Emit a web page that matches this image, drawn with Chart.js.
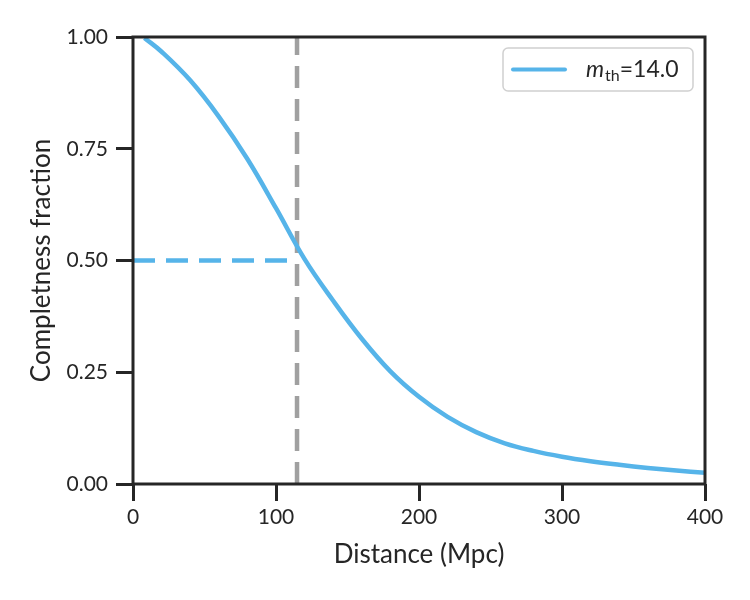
<!DOCTYPE html>
<html lang="en">
<head>
    <meta charset="UTF-8">
    <title>Completeness fraction</title>
    <script src="https://cdn.jsdelivr.net/npm/chart.js"></script>
    <style>
        body { margin: 0; background: #ffffff; }
        .chart-container { position: relative; width: 750px; height: 600px; }
    </style>
</head>
<body>
    <div class="chart-container">
        <canvas id="completenessChart"></canvas>
    </div>
    <script>
        // values
        const distances = [8, 20, 40, 60, 80, 100, 120, 140, 160, 180, 200, 220, 240, 260, 280, 300, 320, 340, 360, 380, 400];
        const completeness = [0.998, 0.967, 0.903, 0.822, 0.727, 0.617, 0.503, 0.41, 0.325, 0.252, 0.195, 0.15, 0.116, 0.091, 0.074, 0.061, 0.051, 0.043, 0.036, 0.03, 0.025];
        const halfDistance = 114.7;
        const halfLevel = 0.5;
        const xTicks = [0, 100, 200, 300, 400];
        const yTicks = [0, 0.25, 0.5, 0.75, 1.0];
        const legendLabel = { base: 'm', sub: 'th', rest: '=14.0' };

        const blue = '#56b4e9';
        const gray = '#a0a0a0';
        const ink = '#262626';
        const font = "Lato, 'DejaVu Sans', sans-serif";

        // box around the axes + legend
        const framePlugin = {
            id: 'frame',
            afterDatasetsDraw(chart) {
                const { ctx, chartArea: a } = chart;
                ctx.save();
                ctx.strokeStyle = ink;
                ctx.lineWidth = 3;
                ctx.strokeRect(a.left, a.top, a.right - a.left, a.bottom - a.top);

                // legend
                const lx = 503, ly = 48, lw = 190, lh = 43;
                ctx.beginPath();
                ctx.roundRect(lx, ly, lw, lh, 5);
                ctx.fillStyle = 'rgba(255,255,255,0.9)';
                ctx.fill();
                ctx.strokeStyle = '#d0d0d0';
                ctx.lineWidth = 1.5;
                ctx.stroke();

                ctx.beginPath();
                ctx.moveTo(513, 69.5);
                ctx.lineTo(565, 69.5);
                ctx.strokeStyle = blue;
                ctx.lineWidth = 4;
                ctx.lineCap = 'round';
                ctx.stroke();

                ctx.fillStyle = ink;
                ctx.textBaseline = 'alphabetic';
                let tx = 586;
                ctx.font = 'italic 23px ' + font;
                ctx.fillText(legendLabel.base, tx, 77);
                tx += ctx.measureText(legendLabel.base).width + 1;
                ctx.font = '16px ' + font;
                ctx.fillText(legendLabel.sub, tx, 81);
                tx += ctx.measureText(legendLabel.sub).width;
                ctx.font = '23px ' + font;
                ctx.fillText(legendLabel.rest, tx, 77);
                ctx.restore();
            }
        };

        new Chart(document.getElementById('completenessChart').getContext('2d'), {
            type: 'line',
            data: {
                datasets: [
                    {
                        label: 'curve',
                        data: distances.map((d, i) => ({ x: d, y: completeness[i] })),
                        borderColor: blue,
                        borderWidth: 4.5,
                        pointRadius: 0,
                        tension: 0.4,
                        fill: false
                    },
                    {
                        label: 'half level',
                        data: [{ x: 0, y: halfLevel }, { x: halfDistance, y: halfLevel }],
                        borderColor: blue,
                        borderWidth: 4.5,
                        borderDash: [22, 11],
                        pointRadius: 0
                    },
                    {
                        label: 'half distance',
                        data: [{ x: halfDistance, y: 0 }, { x: halfDistance, y: 1 }],
                        borderColor: gray,
                        borderWidth: 4.5,
                        borderDash: [22, 11],
                        pointRadius: 0
                    }
                ]
            },
            options: {
                responsive: true,
                maintainAspectRatio: false,
                animation: false,
                layout: { padding: { top: 37, right: 45, left: 0, bottom: 0 } },
                plugins: {
                    legend: { display: false },
                    tooltip: { enabled: false }
                },
                scales: {
                    x: {
                        type: 'linear',
                        min: 0,
                        max: 400,
                        afterBuildTicks: s => { s.ticks = xTicks.map(v => ({ value: v })); },
                        afterFit: s => { s.height = 116; },
                        border: { display: false },
                        grid: { drawOnChartArea: false, tickLength: 17, lineWidth: 3, color: ink },
                        ticks: { color: ink, font: { family: font, size: 21 }, padding: 4, maxRotation: 0 },
                        title: { display: true, text: 'Distance (Mpc)', color: ink, font: { family: font, size: 26 }, padding: { top: 0, bottom: 30 } }
                    },
                    y: {
                        min: 0,
                        max: 1,
                        afterBuildTicks: s => { s.ticks = yTicks.map(v => ({ value: v })); },
                        afterFit: s => { s.width = 133; },
                        border: { display: false },
                        grid: { drawOnChartArea: false, tickLength: 17, lineWidth: 3, color: ink },
                        ticks: { color: ink, font: { family: font, size: 21 }, padding: 8, callback: v => v.toFixed(2) },
                        title: { display: true, text: 'Completness fraction', color: ink, font: { family: font, size: 26 }, padding: { top: 26, bottom: 0 } }
                    }
                }
            },
            plugins: [framePlugin]
        });
    </script>
</body>
</html>
